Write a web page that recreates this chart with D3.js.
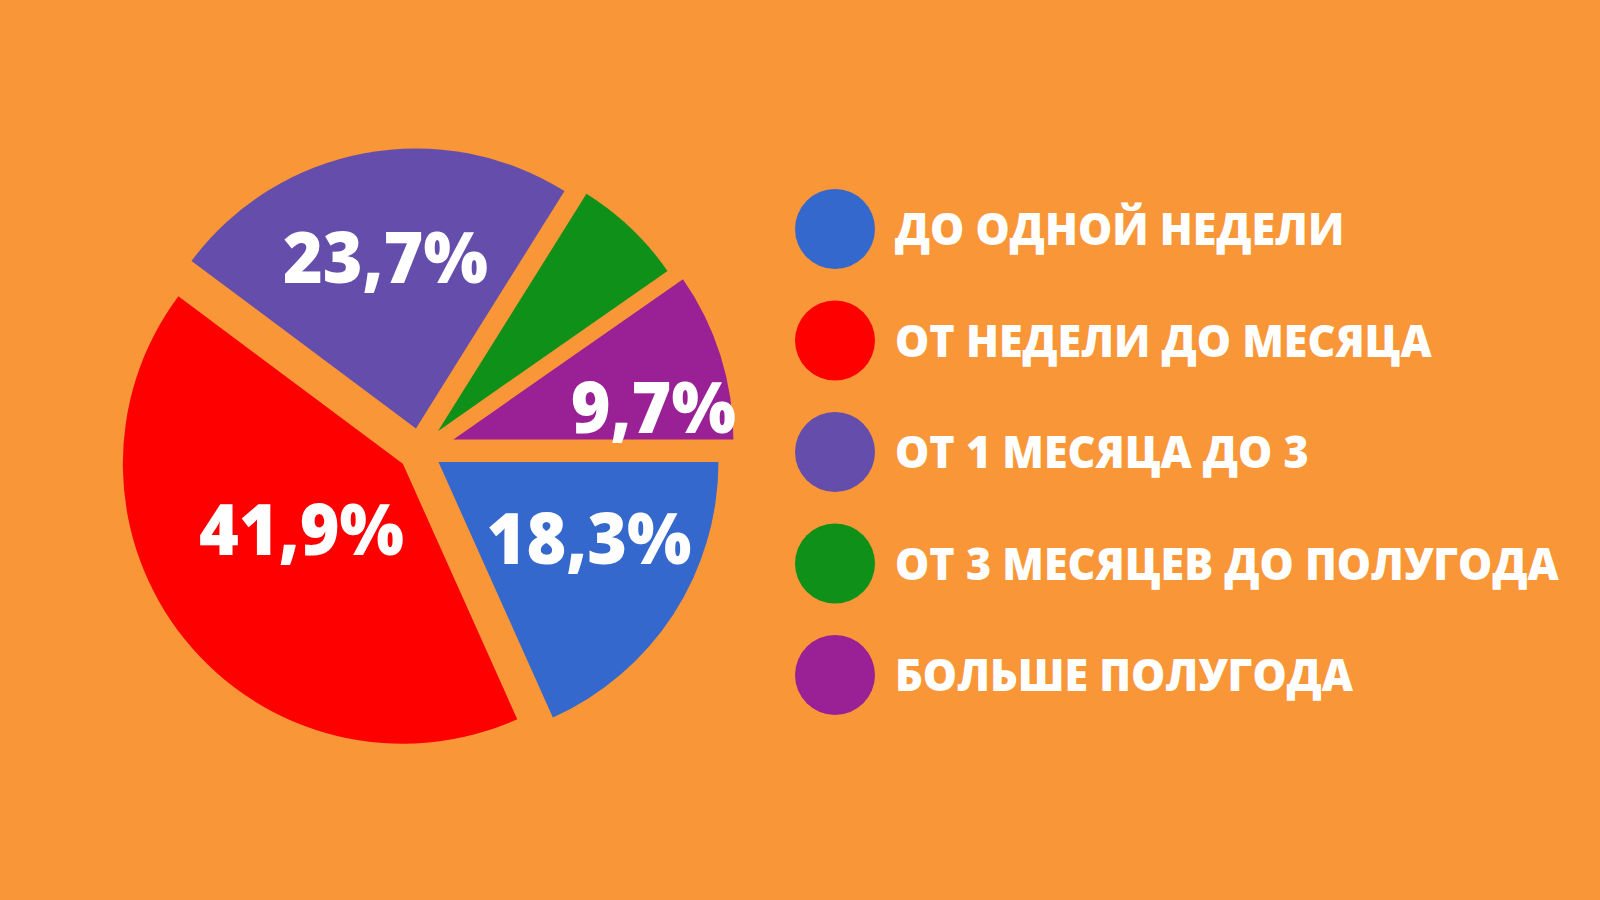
<!DOCTYPE html>
<html>
<head>
<meta charset="utf-8">
<script src="https://cdn.jsdelivr.net/npm/d3@7"></script>
<style>
  html, body { margin: 0; padding: 0; background: #F99637; }
  svg { display: block; }
</style>
</head>
<body>
<svg id="chart" width="1600" height="900"></svg>
<script>
// ---- data ----
const categories = [
  "ДО ОДНОЙ НЕДЕЛИ",
  "ОТ НЕДЕЛИ ДО МЕСЯЦА",
  "ОТ 1 МЕСЯЦА ДО 3",
  "ОТ 3 МЕСЯЦЕВ ДО ПОЛУГОДА",
  "БОЛЬШЕ ПОЛУГОДА"
];
const values = [18.3, 41.9, 23.7, 6.4, 9.7];
const valueLabels = ["18,3%", "41,9%", "23,7%", "", "9,7%"];

// ---- styles ----
const colors = ["#3468CC", "#FF0000", "#654DAB", "#0F9119", "#9A2195"];
const explode = [22, 22, 22, 26, 35];
const labelRadius = [191, 143, 195, 0, 237];
const labelAngleNudge = [-5.2, 4.6, 0.4, 0, 7.3]; // degrees

const W = 1600, H = 900;
const cx = 420, cy = 450, R = 280;
const svg = d3.select("#chart");
svg.append("rect").attr("width", W).attr("height", H).attr("fill", "#F99637");

const pie = d3.pie().sort(null).value(d => d)
  .startAngle(Math.PI / 2).endAngle(Math.PI / 2 + 2 * Math.PI);
const arcs = pie(values);
const arc = d3.arc().innerRadius(0).outerRadius(R);

const g = svg.append("g").attr("transform", `translate(${cx},${cy})`);
g.selectAll("path.slice").data(arcs).enter().append("path")
  .attr("class", "slice")
  .attr("d", arc)
  .attr("fill", (d, i) => colors[i])
  .attr("transform", (d, i) => {
    const a = (d.startAngle + d.endAngle) / 2;
    return `translate(${explode[i] * Math.sin(a)},${-explode[i] * Math.cos(a)})`;
  });

// value labels
const labelFont = "'Open Sans', 'Noto Sans', sans-serif";
const lbl = g.selectAll("text.val").data(arcs.filter((d, i) => valueLabels[i] !== ""))
  .enter().append("text")
  .attr("class", "val")
  .attr("font-family", labelFont)
  .attr("font-weight", 800)
  .attr("font-size", 70)
  .attr("fill", "#fff")
  .attr("text-anchor", "middle")
  .text(d => valueLabels[d.index]);
// measure for horizontal scaling to the narrow look
let w41 = 0;
lbl.each(function(d) { if (d.index === 1) w41 = this.getComputedTextLength(); });
const sxVal = w41 > 0 ? 205 / w41 : 1;
lbl.attr("transform", d => {
  const i = d.index;
  const a = (d.startAngle + d.endAngle) / 2 + labelAngleNudge[i] * Math.PI / 180;
  const x = labelRadius[i] * Math.sin(a), y = -labelRadius[i] * Math.cos(a);
  return `translate(${x},${y + 25}) scale(${sxVal},1)`;
});

// legend
const legendX = 835, legendY0 = 229, legendStep = 111.5, legendR = 40;
const lg = svg.append("g");
const rows = lg.selectAll("g.row").data(categories).enter().append("g")
  .attr("class", "row")
  .attr("transform", (d, i) => `translate(${legendX},${legendY0 + i * legendStep})`);
rows.append("circle").attr("r", legendR).attr("fill", (d, i) => colors[i]);
const lt = rows.append("text")
  .attr("font-family", labelFont)
  .attr("font-weight", 800)
  .attr("font-size", 45)
  .attr("fill", "#fff")
  .text(d => d);
let wLong = 0;
lt.each(function(d, i) { if (i === 3) wLong = this.getComputedTextLength(); });
const sxLeg = wLong > 0 ? 664 / wLong : 1;
lt.attr("transform", `translate(60,16) scale(${sxLeg},1)`);
</script>
</body>
</html>
